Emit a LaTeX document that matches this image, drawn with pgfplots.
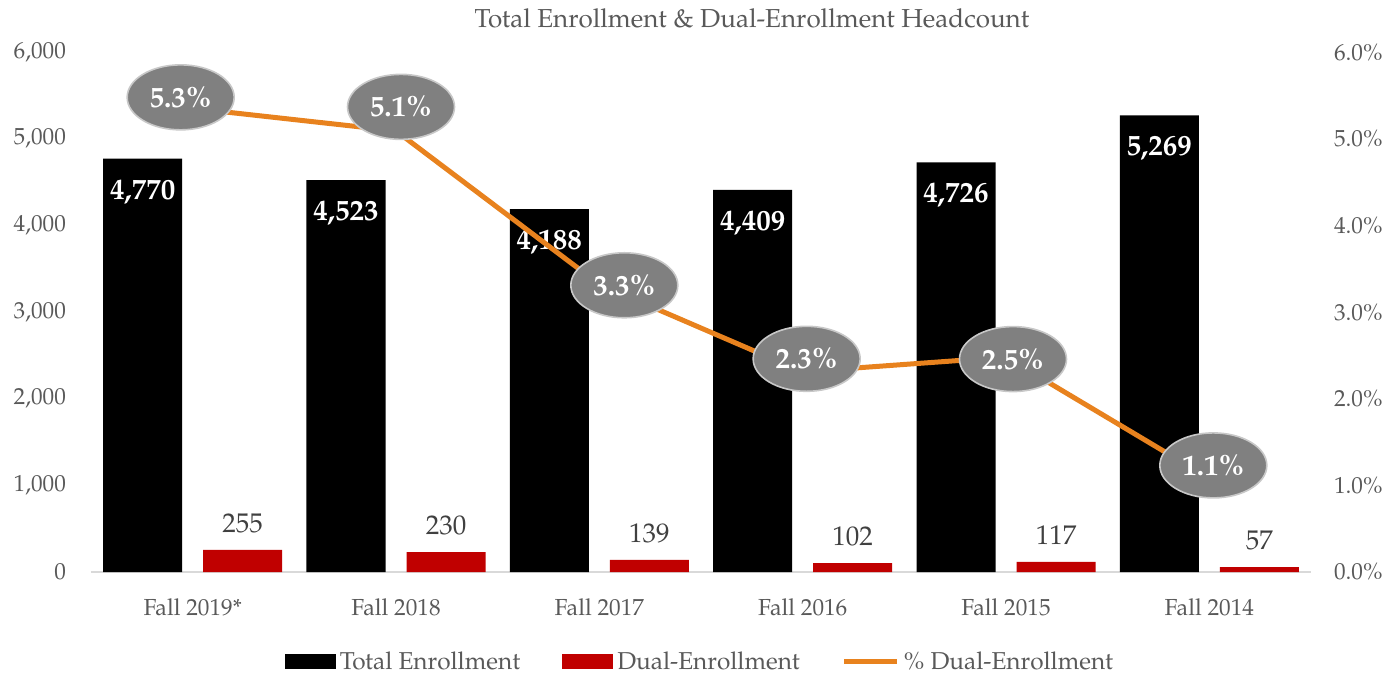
\documentclass[border=0pt]{standalone}
\usepackage{pgfplots}
\pgfplotsset{compat=1.18}
\usepackage{fontspec}
\setmainfont{TeX Gyre Pagella}
\usetikzlibrary{shapes.geometric}
\definecolor{txt}{HTML}{595959}
\definecolor{lbl}{HTML}{404040}
\definecolor{barred}{HTML}{C00000}
\definecolor{lineor}{HTML}{E8821E}
\definecolor{ellg}{HTML}{808080}
\definecolor{ellb}{HTML}{C8C8C8}
\definecolor{axl}{HTML}{D9D9D9}
\pgfplotstableread{
x y lab dx dy
0 5.35 5.3 -6 5.5
1 5.09 5.1 2.5 12
2 3.32 3.3 12.5 -0.5
3 2.31 2.3 2 6.5
4 2.48 2.5 3.5 -1
5 1.08 1.1 2 6.5
}\pcttable
\begin{document}
\begin{tikzpicture}
\useasboundingbox (-45.5pt,-52pt) rectangle (650.5pt,286pt);
\begin{axis}[
  at={(0,0)}, anchor=south west,
  scale only axis, width=610pt, height=260pt,
  xmin=-0.5, xmax=5.5, ymin=0, ymax=6000,
  ybar=10.5pt, bar width=39.5pt,
  axis x line*=bottom, axis y line*=left,
  x axis line style={draw=axl, line width=1pt, -},
  y axis line style={draw=none},
  major tick length=0pt,
  xtick={0,1,2,3,4,5},
  xticklabels={Fall 2019*,Fall 2018,Fall 2017,Fall 2016,Fall 2015,Fall 2014},
  xticklabel style={font=\fontsize{11.6}{13}\selectfont, text=txt, yshift=-10pt},
  ytick={0,1000,2000,3000,4000,5000,6000},
  scaled y ticks=false,
  yticklabel style={font=\fontsize{11.6}{13}\selectfont, text=txt, xshift=-9pt},
  /pgf/number format/1000 sep={,},
  /pgf/number format/assume math mode=true,
  clip=false,
  legend style={at={(0.5,-0.173)}, anchor=center, draw=none, fill=none,
    font=\fontsize{12.2}{13}\selectfont, text=txt,
    /tikz/every even column/.append style={column sep=19pt},
    inner sep=0pt},
  legend columns=3,
]
\addplot[fill=black, draw=none,
  legend image code/.code={\fill[black] (0pt,-3.75pt) rectangle (25.5pt,3.75pt);},
  nodes near coords,
  nodes near coords style={anchor=north, text=white, font=\fontsize{14.5}{15}\selectfont\bfseries, yshift=-7pt}]
  coordinates {(0,4770) (1,4523) (2,4188) (3,4409) (4,4726) (5,5269)};
\addlegendentry{Total Enrollment}
\addplot[fill=barred, draw=none,
  legend image code/.code={\fill[barred] (0pt,-3.75pt) rectangle (25.5pt,3.75pt);},
  nodes near coords,
  nodes near coords style={anchor=south, text=lbl, font=\fontsize{13.5}{14}\selectfont, yshift=5pt}]
  coordinates {(0,255) (1,230) (2,139) (3,102) (4,117) (5,57)};
\addlegendentry{Dual-Enrollment}
\addlegendimage{legend image code/.code={\draw[lineor, line width=2.5pt] (0pt,0pt) -- (26.5pt,0pt);}}
\addlegendentry{\% Dual-Enrollment}
\end{axis}
\begin{axis}[
  at={(0,0)}, anchor=south west,
  scale only axis, width=610pt, height=260pt,
  xmin=-0.5, xmax=5.5, ymin=0, ymax=6,
  axis x line=none, axis y line*=right,
  y axis line style={draw=none},
  major tick length=0pt,
  ytick={0,1,2,3,4,5,6},
  yticklabel={\pgfmathprintnumber[fixed,fixed zerofill,precision=1,assume math mode=true]{\tick}\%},
  yticklabel style={font=\fontsize{11.6}{13}\selectfont, text=txt, xshift=8pt},
  clip=false,
]
\addplot[lineor, line width=2.5pt, mark=none,
  point meta=explicit symbolic,
  visualization depends on={\thisrow{dx} \as \ldx},
  visualization depends on={\thisrow{dy} \as \ldy},
  nodes near coords={\pgfplotspointmeta\%},
  nodes near coords style={ellipse, fill=ellg, draw=ellb, line width=0.8pt,
    minimum width=53.5pt, minimum height=32.5pt, inner sep=0pt,
    text=white, font=\fontsize{14.5}{15}\selectfont\bfseries,
    anchor=center, xshift=\ldx pt, yshift=\ldy pt}]
  table[x=x, y=y, meta=lab] {\pcttable};
\end{axis}
\node[font=\fontsize{13}{14}\selectfont, text=txt] at (330.5pt,277pt) {Total Enrollment \& Dual-Enrollment Headcount};
\end{tikzpicture}
\end{document}
